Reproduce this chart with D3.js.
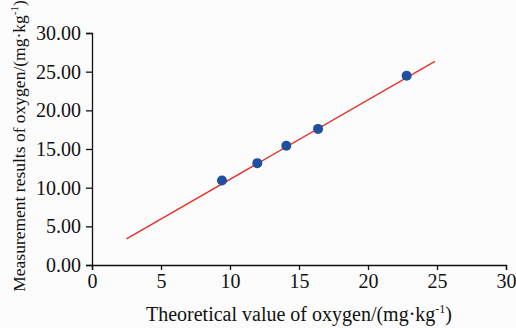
<!DOCTYPE html>
<html>
<head>
<meta charset="utf-8">
<script src="https://cdn.jsdelivr.net/npm/d3@7"></script>
<style>
  body { margin: 0; background: #fcfcfc; }
  svg { display: block; }
  text { font-family: "Liberation Serif", "Times New Roman", serif; fill: #111; }
</style>
</head>
<body>
<div class="chart"></div>
<script>
var svgWidth = 516;
var svgHeight = 328;

var margin = { top: 33, right: 10, bottom: 63, left: 92 };
var width = svgWidth - margin.left - margin.right;
var height = svgHeight - margin.top - margin.bottom;

// measured points
var theoretical = [9.42, 11.98, 14.08, 16.38, 22.8];
var measured = [10.92, 13.17, 15.41, 17.6, 24.48];

// fitted line end points
var fitX = [2.5, 24.85];
var fitY = [3.37, 26.33];

var xTicks = [0, 5, 10, 15, 20, 25, 30];
var yTicks = [0, 5, 10, 15, 20, 25, 30];

var svg = d3.select(".chart")
  .append("svg")
  .attr("width", svgWidth)
  .attr("height", svgHeight);

var chart = svg.append("g")
  .attr("transform", "translate(" + margin.left + "," + margin.top + ")");

var xScale = d3.scaleLinear().domain([0, 30]).range([0, width]);
var yScale = d3.scaleLinear().domain([0, 30]).range([height, 0]);

var bottomAxis = d3.axisBottom(xScale).tickValues(xTicks).tickSize(5).tickPadding(4)
  .tickFormat(d3.format("d"));
var leftAxis = d3.axisLeft(yScale).tickValues(yTicks).tickSize(6).tickPadding(5)
  .tickFormat(d3.format(".2f"));

var xg = chart.append("g")
  .attr("transform", "translate(0," + height + ")")
  .call(bottomAxis);
var yg = chart.append("g").call(leftAxis);

[xg, yg].forEach(function(g) {
  g.select(".domain").attr("stroke", "#111").attr("stroke-width", 1.3);
  g.selectAll(".tick line").attr("stroke", "#111").attr("stroke-width", 1.3);
  g.selectAll("text").attr("font-size", 20).attr("font-family", "Liberation Serif").attr("fill", "#111");
});

var fitData = fitX.map(function(x, i) { return [x, fitY[i]]; });
chart.append("path")
  .datum(fitData)
  .attr("fill", "none")
  .attr("stroke", "#e8302a")
  .attr("stroke-width", 1.4)
  .attr("d", d3.line()
    .x(function(d) { return xScale(d[0]); })
    .y(function(d) { return yScale(d[1]); }));

chart.selectAll("circle")
  .data(theoretical)
  .enter()
  .append("circle")
  .attr("cx", function(d) { return xScale(d); })
  .attr("cy", function(d, i) { return yScale(measured[i]); })
  .attr("r", 5)
  .attr("fill", "#1f4f9e");

var xt = chart.append("text")
  .attr("x", width / 2)
  .attr("y", height + 56)
  .attr("text-anchor", "middle")
  .attr("font-size", 20);
xt.append("tspan").text("Theoretical value of oxygen/(mg·kg");
xt.append("tspan").attr("font-size", 12).attr("dy", -8).text("-1");
xt.append("tspan").attr("dy", 8).text(")");

var yt = chart.append("text")
  .attr("transform", "translate(" + (-67) + "," + (height / 2 - 3) + ") rotate(-90)")
  .attr("text-anchor", "middle")
  .attr("font-size", 17.5);
yt.append("tspan").text("Measurement results of oxygen/(mg·kg");
yt.append("tspan").attr("font-size", 11).attr("dy", -7).text("-1");
yt.append("tspan").attr("dy", 7).text(")");
</script>
</body>
</html>
